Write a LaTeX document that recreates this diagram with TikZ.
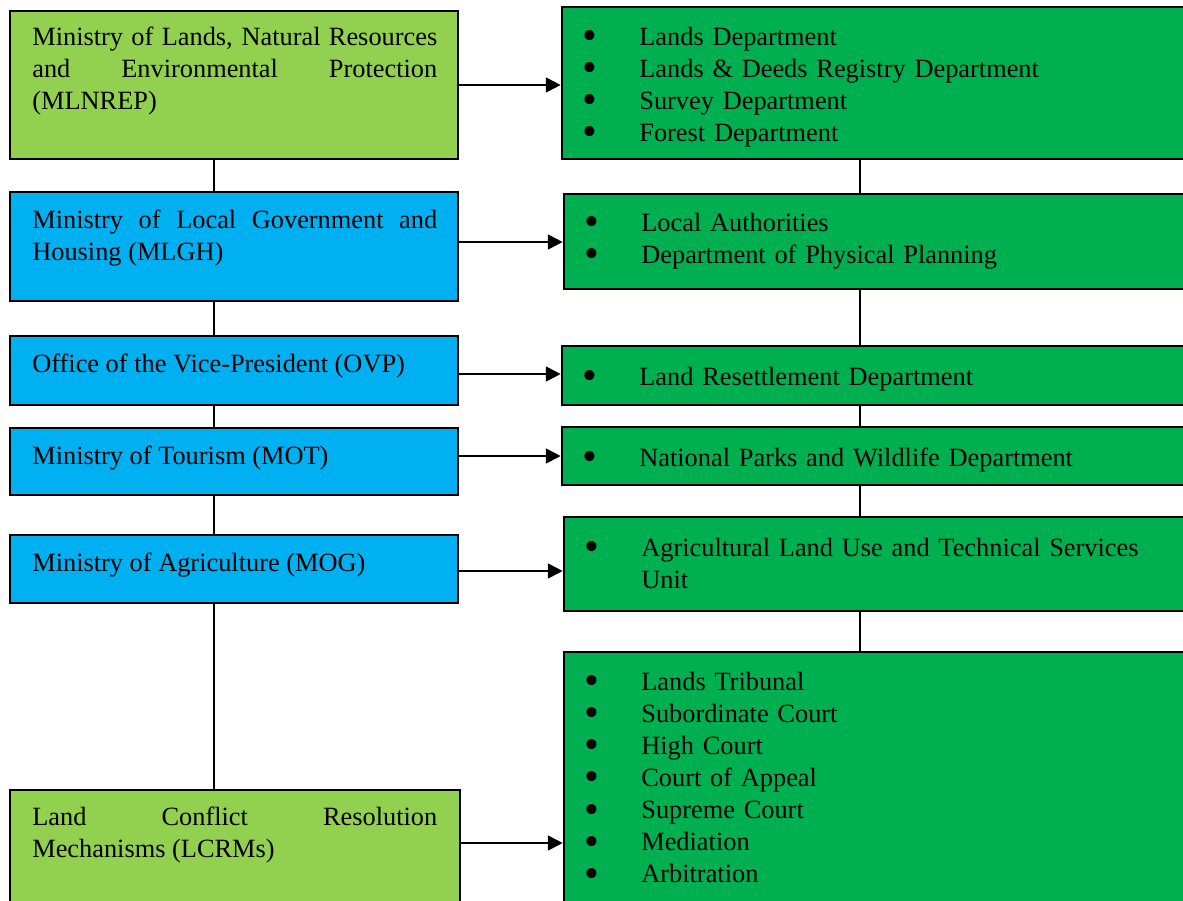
\documentclass[tikz,border=0pt]{standalone}
\usepackage{fontspec}
\setmainfont{Liberation Serif}
\usepackage{tikz}
\usetikzlibrary{fit, arrows.meta}

\definecolor{lightgreen}{HTML}{92D050}
\definecolor{skyblue}{HTML}{00B0F0}
\definecolor{deptgreen}{HTML}{00B050}
\newcommand{\itemdot}{\makebox[1.08cm][l]{\hspace{-1.5pt}\smash{\raisebox{-0.17em}{\scalebox{1.6}{\textbullet}}}}}

\begin{document}
\begin{tikzpicture}[x=0.02cm, y=-0.02cm,
    font=\fontsize{15}{18.3}\selectfont,
    box/.style={draw=black, line width=1.5pt, inner sep=0pt},
    ministry/.style={box, fill=skyblue},
    keybox/.style={box, fill=lightgreen},
    dept/.style={box, fill=deptgreen},
    ltext/.style={anchor=base west, text width=8.1cm, align=justify, inner sep=0pt},
    rtext/.style={anchor=base west, text width=12cm, align=left, inner sep=0pt},
    link/.style={line width=0.6pt},
    arrow/.style={line width=1.1pt, -{Triangle[length=8.5pt, width=8.5pt]}}]
  \path[use as bounding box, clip] (0,0) rectangle (1183,900);

  % left column
  \node[keybox, fit={(10,11) (458,159)}] (mlnrep) {};
  \node[ministry, fit={(10,192) (458,301)}] (mlgh) {};
  \node[ministry, fit={(10,336) (458,405)}] (ovp) {};
  \node[ministry, fit={(10,428) (458,495)}] (mot) {};
  \node[ministry, fit={(10,535) (458,603)}] (mog) {};
  \node[keybox, fit={(10,790) (460,930)}] (lcrm) {};

  \node[ltext] (mlnreptxt) at (32,45) {Ministry of Lands, Natural Resources\linebreak and Environmental Protection\linebreak (MLNREP)};
  \node[ltext] (mlghtxt) at (32,228) {Ministry of Local Government and\linebreak Housing (MLGH)};
  \node[ltext] (ovptxt) at (32,372) {Office of the Vice-President (OVP)};
  \node[ltext] (mottxt) at (32,464) {Ministry of Tourism (MOT)};
  \node[ltext] (mogtxt) at (32,571) {Ministry of Agriculture (MOG)};
  \node[ltext] (lcrmtxt) at (32,825) {Land Conflict Resolution\linebreak Mechanisms (LCRMs)};

  % right column
  \node[dept, fit={(562,7) (1200,159)}] (lands) {};
  \node[dept, fit={(564,194) (1200,289)}] (local) {};
  \node[dept, fit={(562,346) (1200,405)}] (resettle) {};
  \node[dept, fit={(562,427) (1200,485)}] (parks) {};
  \node[dept, fit={(564,517) (1200,611)}] (agri) {};
  \node[dept, fit={(564,652) (1200,930)}] (courts) {};

  \node[rtext] (landstxt) at (585,45) {\itemdot Lands Department\\\itemdot Lands \& Deeds Registry Department\\\itemdot Survey Department\\\itemdot Forest Department};
  \node[rtext] (localtxt) at (587,231) {\itemdot Local Authorities\\\itemdot Department of Physical Planning};
  \node[rtext] (resettletxt) at (585,385) {\itemdot Land Resettlement Department};
  \node[rtext] (parkstxt) at (585,466) {\itemdot National Parks and Wildlife Department};
  \node[rtext] (agritxt) at (587,556) {\itemdot Agricultural Land Use and Technical Services\\\hspace*{1.08cm}Unit};
  \node[rtext] (courtstxt) at (587,690) {\itemdot Lands Tribunal\\\itemdot Subordinate Court\\\itemdot High Court\\\itemdot Court of Appeal\\\itemdot Supreme Court\\\itemdot Mediation\\\itemdot Arbitration};

  % spines
  \coordinate (lspine) at (214,0);
  \coordinate (rspine) at (860,0);
  \foreach \a/\b in {mlnrep/mlgh, mlgh/ovp, ovp/mot, mot/mog, mog/lcrm}
    \draw[link] (\a.south -| lspine) -- (\b.north -| lspine);
  \foreach \a/\b in {lands/local, local/resettle, resettle/parks, parks/agri, agri/courts}
    \draw[link] (\a.south -| rspine) -- (\b.north -| rspine);

  % arrows
  \foreach \a/\b/\s in {mlnrep/lands/0, mlgh/local/0.09, ovp/resettle/-0.07, mot/parks/0.11, mog/agri/-0.04, lcrm/courts/0.34}
    \draw[arrow] ([yshift=\s cm]\a.east) coordinate (p) -- (p -| \b.west);
\end{tikzpicture}
\end{document}
